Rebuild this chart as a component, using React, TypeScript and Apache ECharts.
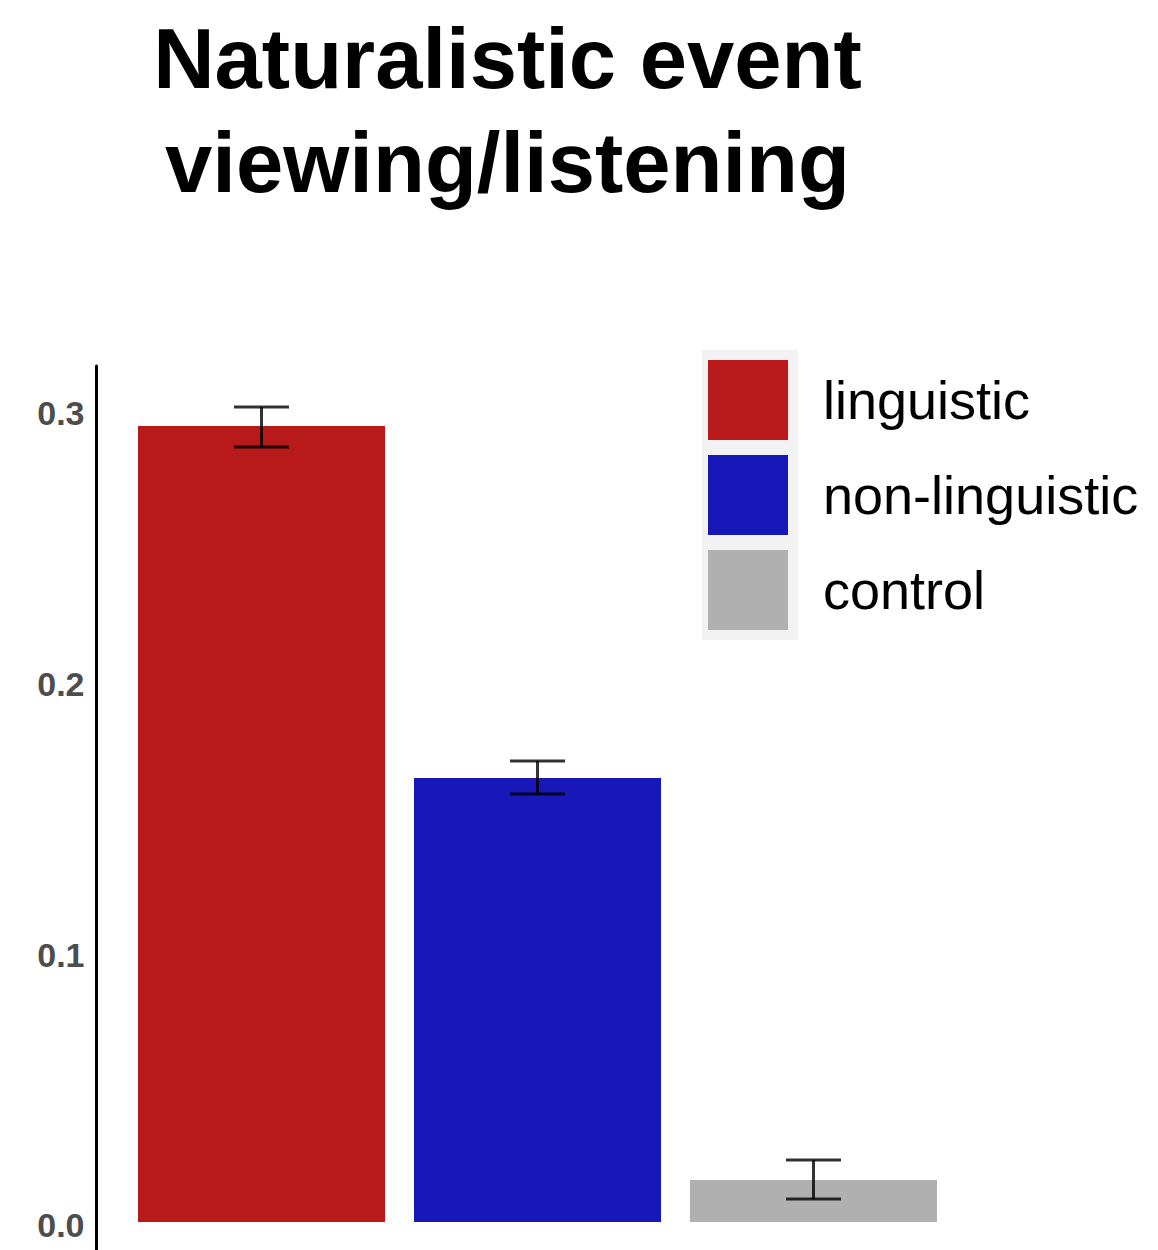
import React, { useEffect, useRef } from "react";
import * as echarts from "echarts";

// Conditions and their mean response with error-bar bounds
const categories = ["linguistic", "non-linguistic", "control"];
const means = [0.2943, 0.1641, 0.0155];
const errLow = [0.2865, 0.1582, 0.0085];
const errHigh = [0.3013, 0.1704, 0.0229];
const colors = ["#B8191A", "#1818B9", "#B0B0B0"];
const yTicks = [0, 0.1, 0.2, 0.3];
const titleLines = ["Naturalistic event", "viewing/listening"];

const FONT = "'Liberation Sans', Arial, Helvetica, sans-serif";

export default function App() {
  const ref = useRef<HTMLDivElement>(null);

  useEffect(() => {
    if (!ref.current) return;
    const chart = echarts.init(ref.current, null, { renderer: "svg" });

    const barSeries = categories.map((name, i) => ({
      type: "bar",
      name,
      stack: "all",
      barWidth: 247,
      itemStyle: { color: colors[i] },
      data: categories.map((_, j) => (j === i ? means[i] : "-")),
    }));

    const errData = categories.map((_, i) => [i, errLow[i], errHigh[i]]);

    const tickText = {
      fontFamily: FONT,
      fontSize: 34,
      fontWeight: "bold",
      color: "#4D4D4D",
    };

    chart.setOption({
      animation: false,
      backgroundColor: "#ffffff",
      title: {
        text: titleLines.join("\n"),
        left: 507.5,
        top: 6,
        padding: 0,
        textAlign: "center",
        textStyle: {
          fontFamily: FONT,
          fontSize: 85,
          fontWeight: "bold",
          color: "#000000",
          lineHeight: 104,
        },
      },
      graphic: [
        {
          type: "rect",
          z: 0,
          shape: { x: 702, y: 350, width: 96, height: 290 },
          style: { fill: "#F2F2F2" },
        },
      ],
      legend: {
        orient: "vertical",
        left: 708,
        top: 360,
        padding: 0,
        itemWidth: 80,
        itemHeight: 80,
        itemGap: 15,
        icon: "rect",
        selectedMode: false,
        data: categories,
        textStyle: {
          fontFamily: FONT,
          fontSize: 54,
          color: "#000000",
          padding: [0, 0, 0, 30],
        },
      },
      grid: { left: 123.5, right: 206.5, top: 366, bottom: 0, containLabel: false },
      xAxis: {
        type: "category",
        data: categories,
        axisLine: { show: false },
        axisTick: { show: false },
        axisLabel: { show: false },
        splitLine: { show: false },
      },
      yAxis: {
        type: "value",
        min: -0.01035,
        max: 0.31645,
        offset: 27,
        axisLine: { show: true, lineStyle: { color: "#000000", width: 3 } },
        axisTick: { show: false },
        splitLine: { show: false },
        axisLabel: {
          customValues: yTicks,
          formatter: (v: number) => `{t|${v.toFixed(1)}}`,
          margin: 12,
          ...tickText,
          rich: {
            t: { ...tickText, padding: [6, 0, 0, 0] },
          },
        },
      },
      series: [
        ...barSeries,
        {
          type: "custom",
          name: "error",
          z: 10,
          data: errData,
          renderItem: (params: any, api: any) => {
            const x = api.value(0);
            const lo = api.coord([x, api.value(1)]);
            const hi = api.coord([x, api.value(2)]);
            const half = 27.5;
            const style = { stroke: "#000000", lineWidth: 3, opacity: 0.8 };
            return {
              type: "group",
              children: [
                { type: "line", shape: { x1: lo[0], y1: lo[1], x2: hi[0], y2: hi[1] }, style },
                { type: "line", shape: { x1: hi[0] - half, y1: hi[1], x2: hi[0] + half, y2: hi[1] }, style },
                { type: "line", shape: { x1: lo[0] - half, y1: lo[1], x2: lo[0] + half, y2: lo[1] }, style },
              ],
            };
          },
        },
      ],
    });

    return () => chart.dispose();
  }, []);

  return (
    <div
      ref={ref}
      style={{ position: "fixed", left: 0, top: 0, width: 1158, height: 1250 }}
    />
  );
}
